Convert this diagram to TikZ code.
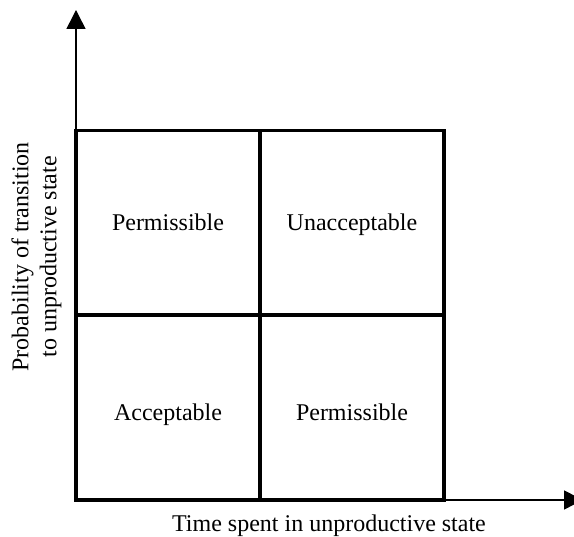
\documentclass[tikz,border=0pt]{standalone}
\usepackage{fontspec}
\setmainfont{Liberation Serif}
\usetikzlibrary{arrows.meta}
\begin{document}
\begin{tikzpicture}[x=1pt,y=1pt,
  lbl/.style={font=\fontsize{24}{28}\selectfont, inner sep=0pt},
  gridline/.style={line width=3.5pt},
  axisline/.style={line width=1.5pt, -{Triangle[length=19pt,width=19pt]}}]
\useasboundingbox (0,0) rectangle (574,537);
\coordinate (o) at (76,37);
\coordinate (ytip) at (76,527);
\coordinate (xtip) at (583,37);
\draw[axisline] (o) -- (ytip);
\draw[axisline] (o) -- (xtip);
\draw[gridline] (76,37) rectangle (444,406.5);
\draw[gridline] (260,37) -- (260,406.5);
\draw[gridline] (76,222) -- (444,222);
\node[lbl, anchor=base] (tl) at (168,306) {Permissible};
\node[lbl, anchor=base] (tr) at (352,306) {Unacceptable};
\node[lbl, anchor=base] (bl) at (168,116) {Acceptable};
\node[lbl, anchor=base] (br) at (352,116) {Permissible};
\node[lbl, anchor=base] (xl) at (329,5.3) {Time spent in unproductive state};
\node[lbl, rotate=90, align=center] (yl) at (36.5,280) {Probability of transition\\to unproductive state};
\end{tikzpicture}
\end{document}
